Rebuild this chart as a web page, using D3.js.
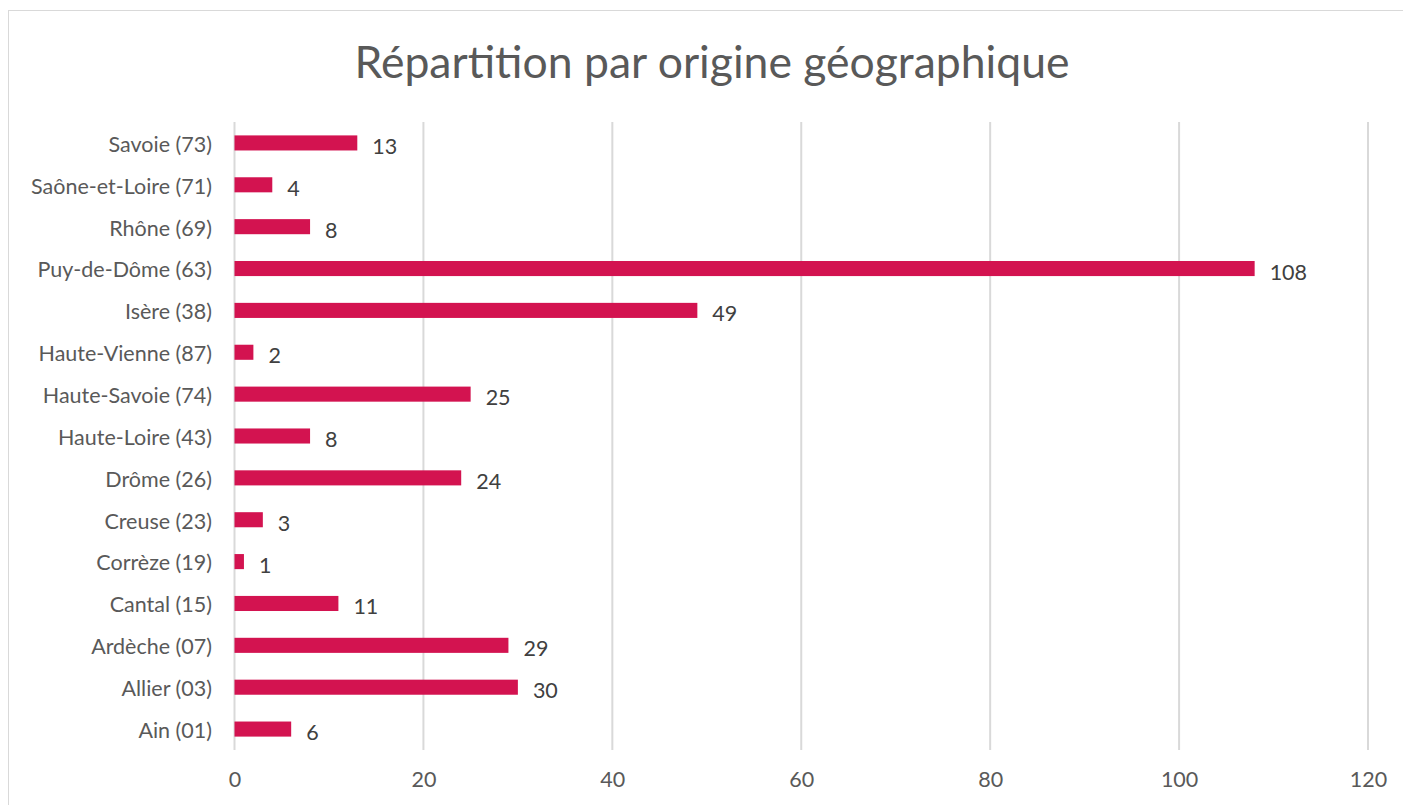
<!DOCTYPE html>
<html><head><meta charset="utf-8">
<script src="https://cdn.jsdelivr.net/npm/d3@7"></script>
<style>body{margin:0;background:#fff}svg{display:block}</style>
</head><body>
<script>
const categories = ["Savoie (73)","Saône-et-Loire (71)","Rhône (69)","Puy-de-Dôme (63)","Isère (38)","Haute-Vienne (87)","Haute-Savoie (74)","Haute-Loire (43)","Drôme (26)","Creuse (23)","Corrèze (19)","Cantal (15)","Ardèche (07)","Allier (03)","Ain (01)"];
const values = [13,4,8,108,49,2,25,8,24,3,1,11,29,30,6];
const xTicks = [0,20,40,60,80,100,120];
const title = "Répartition par origine géographique";

const W=1403,H=805;
const svg=d3.select("body").append("svg").attr("width",W).attr("height",H);
const font="Lato, 'Open Sans', sans-serif";
svg.append("rect").attr("x",8.5).attr("y",10.5).attr("width",1400).attr("height",800)
  .attr("fill","#fff").attr("stroke","#d9d9d9");
svg.append("text").attr("x",712).attr("y",78).attr("text-anchor","middle")
  .attr("font-family",font).attr("font-size",44.5).attr("fill","#595959").text(title);

const x=d3.scaleLinear().domain([0,120]).range([234.5,1368]);
const y=d3.scaleBand().domain(categories).range([122,750]).paddingInner(0.64).paddingOuter(0.32);

const g=svg.append("g");
g.selectAll("line.grid").data(xTicks).join("line").attr("class","grid")
  .attr("x1",d=>x(d)).attr("x2",d=>x(d)).attr("y1",122).attr("y2",750)
  .attr("stroke","#d9d9d9").attr("stroke-width",2);

const xa=svg.append("g").attr("transform","translate(0,750)")
  .call(d3.axisBottom(x).tickValues(xTicks).tickSize(0).tickPadding(22));
xa.select(".domain").remove();
xa.selectAll("text").attr("font-family",font).attr("font-size",21.5).attr("fill","#595959");

const ya=svg.append("g").attr("transform","translate(212,2)")
  .call(d3.axisLeft(y).tickSize(0).tickPadding(0));
ya.select(".domain").remove();
ya.selectAll("text").attr("font-family",font).attr("font-size",21.5).attr("fill","#595959");

g.selectAll("rect.bar").data(values).join("rect").attr("class","bar")
  .attr("x",x(0)).attr("y",(d,i)=>y(categories[i]))
  .attr("width",d=>x(d)-x(0)).attr("height",y.bandwidth())
  .attr("fill","#d31350");

g.selectAll("text.val").data(values).join("text").attr("class","val")
  .attr("x",d=>x(d)+15).attr("y",(d,i)=>y(categories[i])+y.bandwidth()/2+11)
  .attr("font-family",font).attr("font-size",21.5).attr("fill","#404040").text(d=>d);
</script>
</body></html>
